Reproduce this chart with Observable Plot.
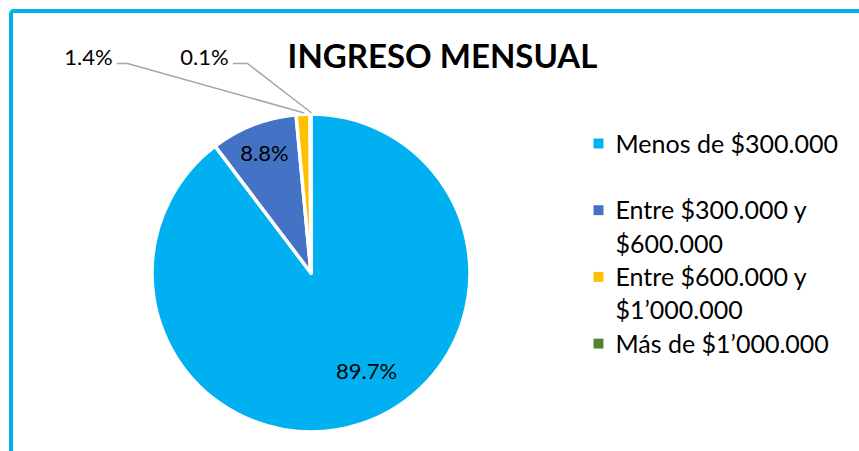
<!DOCTYPE html>
<html>
<head>
<meta charset="utf-8">
<script src="https://cdn.jsdelivr.net/npm/d3@7"></script>
<script src="https://cdn.jsdelivr.net/npm/@observablehq/plot@0.6"></script>
<style>
  html, body { margin: 0; padding: 0; background: #fff; }
  #wrap { position: relative; width: 859px; height: 451px; overflow: hidden; }
  #frame { position: absolute; left: 9px; top: 9px; width: 900px; height: 500px;
           border-left: 4px solid #00B0F0; border-top: 4px solid #00B0F0;
           border-top-left-radius: 5px; box-sizing: border-box; }
  #chart { position: absolute; left: 0; top: 0; }
</style>
</head>
<body>
<div id="wrap"><div id="frame"></div><div id="chart"></div></div>
<script>
// ---- data ----
const categories = ["Menos de $300.000", "Entre $300.000 y $600.000", "Entre $600.000 y $1’000.000", "Más de $1’000.000"];
const legendLines = [["Menos de $300.000"], ["Entre $300.000 y", "$600.000"], ["Entre $600.000 y", "$1’000.000"], ["Más de $1’000.000"]];
const values = [89.7, 8.8, 1.4, 0.1];
const colors = ["#00B0F0", "#4472C4", "#FFC000", "#548235"];
const titleText = "INGRESO MENSUAL";

// ---- layout ----
const W = 859, H = 451;
const center = [311, 273];
const radius = 159;
const font = "Lato";

const data = categories.map((c, i) => ({category: c, value: values[i]}));
const arcs = d3.pie().value(d => d.value).sort(null)(data);
const fmt = v => d3.format(".1f")(v) + "%";

// label placement (inside for big slices, outside with leader for small)
const insideLabelPos = [[366, 371], [264, 153]];
const outsideLabel = [
  {i: 2, text: [88, 57], elbow: [127, 63], start: [117, 63]},
  {i: 3, text: [204, 57], elbow: [247, 63], start: [233, 63]}
];
const polar = (a, r) => [center[0] + Math.sin(a) * r, center[1] - Math.cos(a) * r];

const labelData = [
  ...insideLabelPos.map((p, i) => ({x: p[0], y: p[1], text: fmt(values[i])})),
  ...outsideLabel.map(o => ({x: o.text[0], y: o.text[1], text: fmt(values[o.i])}))
];
const leaderData = outsideLabel.flatMap(o => {
  const a = arcs[o.i];
  const mid = (a.startAngle + a.endAngle) / 2;
  const end = polar(mid, radius + 2);
  return [
    {k: o.i, x: o.start[0], y: o.start[1]},
    {k: o.i, x: o.elbow[0], y: o.elbow[1]},
    {k: o.i, x: end[0], y: end[1]}
  ];
});

const legendX = 598, legendTextX = 615, legendTop = 143, legendStep = 66.7, lineGap = 33.5;
const legendDots = categories.map((c, i) => ({category: c, x: legendX, y: legendTop + i * legendStep}));
const legendText = legendLines.flatMap((lines, i) =>
  lines.map((t, j) => ({text: t, x: legendTextX, y: legendTop + 1 + i * legendStep + j * lineGap})));

function pieMark(index, scales) {
  const cx = scales.x(center[0]), cy = scales.y(center[1]);
  const r = scales.x(center[0] + radius) - cx;
  const arcGen = d3.arc().innerRadius(0).outerRadius(r);
  const g = d3.create("svg:g").attr("transform", `translate(${cx},${cy})`);
  g.selectAll("path").data(arcs).join("path")
    .attr("d", arcGen)
    .attr("fill", d => scales.color(d.data.category))
    .attr("stroke", "white")
    .attr("stroke-width", 3.5)
    .attr("stroke-linejoin", "round");
  return g.node();
}

const chart = Plot.plot({
  width: W, height: H, margin: 0,
  x: {domain: [0, W], range: [0, W], axis: null},
  y: {domain: [0, H], range: [0, H], axis: null},
  color: {domain: categories, range: colors},
  style: {fontFamily: font, background: "transparent"},
  marks: [
    pieMark,
    Plot.line(leaderData, {x: "x", y: "y", z: "k", stroke: "#A6A6A6", strokeWidth: 1.5}),
    Plot.text(labelData, {x: "x", y: "y", text: "text", fontSize: 22, fill: "#000", textAnchor: "middle"}),
    Plot.text([titleText], {x: 442, y: 57, text: d => d, fontSize: 33, fontWeight: "bold", fill: "#000"}),
    Plot.dot(legendDots, {x: "x", y: "y", fill: "category", symbol: "square", r: 5.6}),
    Plot.text(legendText, {x: "x", y: "y", text: "text", fontSize: 25, fill: "#000", textAnchor: "start"})
  ]
});
document.getElementById("chart").appendChild(chart);
</script>
</body>
</html>
